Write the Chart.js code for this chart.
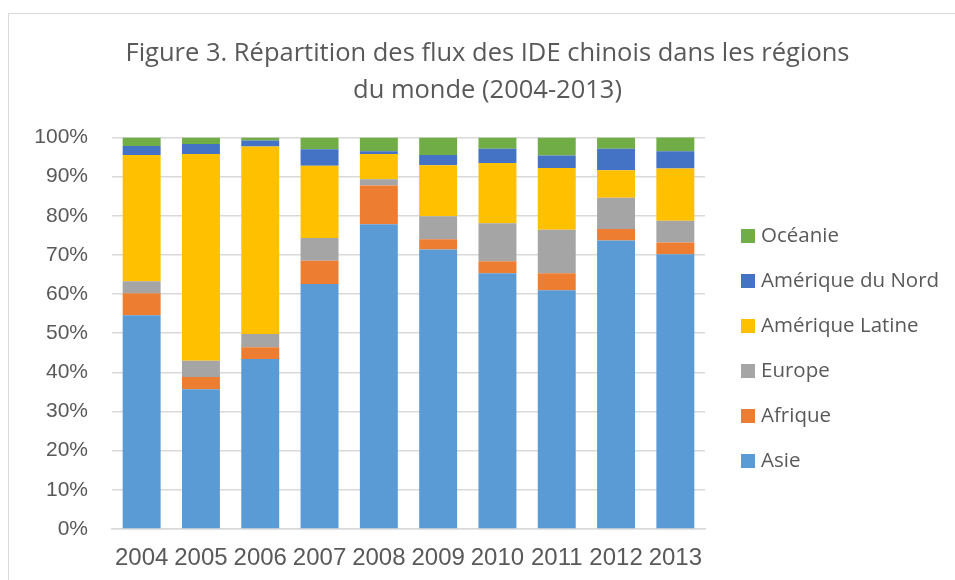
<!DOCTYPE html>
<html>
<head>
<meta charset="utf-8">
<script src="https://cdn.jsdelivr.net/npm/chart.js@4.4.1/dist/chart.umd.min.js"></script>
<style>
  html, body { margin: 0; padding: 0; background: #fff; overflow: hidden; }
  .frame { position: absolute; left: 8px; top: 13px; width: 957px; height: 567px; border: 1px solid #d9d9d9; background: #fff; }
</style>
</head>
<body>
<div class="frame"><canvas id="chart" width="957" height="567"></canvas></div>
<script>
  // categories and series (share of flows, %)
  const years = ['2004', '2005', '2006', '2007', '2008', '2009', '2010', '2011', '2012', '2013'];
  const asie = [54.6, 35.7, 43.4, 62.6, 77.8, 71.4, 65.3, 61.0, 73.7, 70.2];
  const afrique = [5.6, 3.1, 3.0, 5.9, 9.9, 2.6, 3.1, 4.3, 2.9, 3.0];
  const europe = [3.1, 4.2, 3.4, 5.8, 1.6, 5.9, 9.7, 11.1, 8.0, 5.5];
  const ameriqueLatine = [32.2, 52.8, 47.9, 18.5, 6.5, 13.0, 15.4, 15.8, 7.0, 13.4];
  const ameriqueNord = [2.3, 2.5, 1.5, 4.2, 0.7, 2.6, 3.6, 3.2, 5.5, 4.4];
  const oceanie = [2.2, 1.7, 0.8, 3.0, 3.5, 4.5, 2.9, 4.6, 2.9, 3.6];
  const yTicks = [0, 10, 20, 30, 40, 50, 60, 70, 80, 90, 100];

  const series = [
    { label: 'Asie', data: asie, color: '#5B9BD5' },
    { label: 'Afrique', data: afrique, color: '#ED7D31' },
    { label: 'Europe', data: europe, color: '#A5A5A5' },
    { label: 'Amérique Latine', data: ameriqueLatine, color: '#FFC000' },
    { label: 'Amérique du Nord', data: ameriqueNord, color: '#4472C4' },
    { label: 'Océanie', data: oceanie, color: '#70AD47' }
  ];

  // legend drawn at the right, last series on top (like Excel)
  const sideLegend = {
    id: 'sideLegend',
    afterDraw(chart) {
      const ctx = chart.ctx;
      const items = chart.data.datasets.slice().reverse();
      ctx.save();
      ctx.font = '20.5px "Open Sans"';
      ctx.textBaseline = 'middle';
      items.forEach((ds, i) => {
        const y = 222 + i * 45;
        ctx.fillStyle = ds.backgroundColor;
        ctx.fillRect(732, y - 7, 14, 14);
        ctx.fillStyle = '#595959';
        ctx.fillText(ds.label, 752, y);
      });
      ctx.restore();
    }
  };

  new Chart(document.getElementById('chart'), {
    type: 'bar',
    data: {
      labels: years,
      datasets: series.map(s => ({
        label: s.label,
        data: s.data,
        backgroundColor: s.color,
        borderWidth: 0,
        barPercentage: 0.64,
        categoryPercentage: 1
      }))
    },
    plugins: [sideLegend],
    options: {
      responsive: false,
      animation: false,
      layout: { padding: 0 },
      plugins: {
        title: {
          display: true,
          text: ['Figure 3. Répartition des flux des IDE chinois dans les régions', 'du monde (2004-2013)'],
          color: '#595959',
          font: { family: 'Open Sans', size: 25.5, weight: 'normal', lineHeight: 1.45 },
          padding: { top: 21, bottom: 28.5 }
        },
        legend: { display: false },
        tooltip: { enabled: false }
      },
      scales: {
        x: {
          stacked: true,
          grid: { display: false, drawTicks: false },
          border: { color: '#d9d9d9', width: 1.5 },
          ticks: { color: '#595959', font: { family: 'Liberation Sans', size: 24 }, padding: 14.5, maxRotation: 0 },
          afterFit: axis => { axis.height = 52; }
        },
        y: {
          stacked: true,
          min: 0,
          max: 100,
          afterBuildTicks: axis => { axis.ticks = yTicks.map(v => ({ value: v })); },
          grid: { color: '#d9d9d9', lineWidth: 1.5, drawTicks: false },
          border: { display: false },
          ticks: { color: '#595959', font: { family: 'Liberation Sans', size: 21 }, padding: 24, callback: v => v + '%' },
          afterFit: axis => { axis.width = 103; }
        },
        // empty right-hand space reserved for the legend
        spacer: {
          type: 'linear',
          position: 'right',
          grid: { display: false, drawTicks: false },
          border: { display: false },
          ticks: { display: false },
          afterFit: axis => { axis.width = 261; }
        }
      }
    }
  });
</script>
</body>
</html>
